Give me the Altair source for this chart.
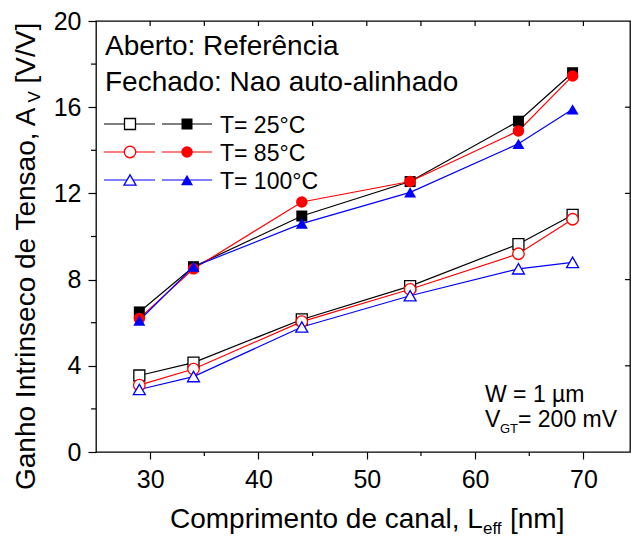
import altair as alt
import pandas as pd

# ---- data ----
leff = [29, 34, 44, 54, 64, 69]
temps = ["25", "85", "100"]
temp_labels = ["T= 25°C", "T= 85°C", "T= 100°C"]

closed_25 = [6.5, 8.6, 10.95, 12.55, 15.35, 17.6]
closed_85 = [6.2, 8.5, 11.6, 12.55, 14.9, 17.45]
closed_100 = [6.1, 8.6, 10.6, 12.05, 14.3, 15.9]

open_25 = [3.55, 4.15, 6.15, 7.7, 9.65, 11.0]
open_85 = [3.1, 3.85, 6.05, 7.55, 9.2, 10.8]
open_100 = [2.9, 3.5, 5.8, 7.25, 8.5, 8.8]

x_major = [30, 40, 50, 60, 70]
x_minor = [35, 45, 55, 65]
x_top = [30, 35, 40, 45, 50, 55, 60, 65, 70]
y_major = [0, 4, 8, 12, 16, 20]
y_minor = [2, 6, 10, 14, 18]
y_right = [4, 8, 12, 16]

FONT = "Liberation Sans"
colors = ["#000000", "#ff0000", "#0000ff"]

rows = []
for kind, series in [("closed", [closed_25, closed_85, closed_100]),
                     ("open", [open_25, open_85, open_100])]:
    for t, vals in zip(temps, series):
        for L, v in zip(leff, vals):
            rows.append({"kind": kind, "temp": t, "series": kind + t, "leff": L, "av": v})
df = pd.DataFrame(rows)

xs = alt.Scale(domain=[25, 74.3], nice=False, zero=False)
ys = alt.Scale(domain=[0, 20], nice=False, zero=False)
cs = alt.Scale(domain=temps, range=colors)
shs = alt.Scale(domain=temps, range=["square", "circle", "triangle-up"])
sz_closed = alt.Scale(domain=temps, range=[144, 169, 169])
sz_open = alt.Scale(domain=temps, range=[121, 144, 160])

x_axis = alt.Axis(values=x_major, format="d", tickSize=7, tickWidth=1.2, tickColor="black",
                  labelFontSize=25, labelFont=FONT, labelColor="black", labelPadding=8,
                  domain=False, grid=False, title=None)
y_axis = alt.Axis(values=y_major, format="d", tickSize=8, tickWidth=1.2, tickColor="black",
                  labelFontSize=25, labelFont=FONT, labelColor="black", labelPadding=7,
                  domain=False, grid=False, title=None)

base = alt.Chart(df)
X = alt.X("leff:Q", scale=xs, axis=x_axis)
Y = alt.Y("av:Q", scale=ys, axis=y_axis)

lines = base.mark_line(strokeWidth=1.2).encode(
    x=X, y=Y,
    color=alt.Color("temp:N", scale=cs, legend=None),
    detail="series:N",
)

closed_pts = base.transform_filter(alt.datum.kind == "closed").mark_point(
    filled=True, opacity=1
).encode(
    x=X, y=Y,
    color=alt.Color("temp:N", scale=cs, legend=None),
    shape=alt.Shape("temp:N", scale=shs, legend=None),
    size=alt.Size("temp:N", scale=sz_closed, legend=None),
)

open_pts = base.transform_filter(alt.datum.kind == "open").mark_point(
    filled=True, fill="white", opacity=1, strokeWidth=1.3
).encode(
    x=X, y=Y,
    stroke=alt.Stroke("temp:N", scale=cs, legend=None),
    shape=alt.Shape("temp:N", scale=shs, legend=None),
    size=alt.Size("temp:N", scale=sz_open, legend=None),
)

# ---- extra ticks (minor outward, mirrored inward) ----
def tick_df(vals):
    return pd.DataFrame({"v": vals})

xminor = alt.Chart(tick_df(x_minor)).mark_rule(color="black", strokeWidth=1.2).encode(
    x=alt.X("v:Q", scale=xs), y=alt.value(431), y2=alt.value(435))
xtop = alt.Chart(tick_df(x_top)).mark_rule(color="black", strokeWidth=1.2).encode(
    x=alt.X("v:Q", scale=xs), y=alt.value(0), y2=alt.value(5))
yminor = alt.Chart(tick_df(y_minor)).mark_rule(color="black", strokeWidth=1.2).encode(
    y=alt.Y("v:Q", scale=ys), x=alt.value(0), x2=alt.value(-5))
yright = alt.Chart(tick_df(y_right)).mark_rule(color="black", strokeWidth=1.2).encode(
    y=alt.Y("v:Q", scale=ys), x=alt.value(534), x2=alt.value(529))

# ---- legend (manual) ----
leg = pd.DataFrame({"temp": temps, "label": temp_labels, "row": [0, 1, 2]})
legbase = alt.Chart(leg).transform_calculate(ly="103 + 28*datum.row", ty="112 + 28*datum.row")
LY = alt.Y("ly:Q", scale=None)
leg_open_line = legbase.mark_rule(strokeWidth=1.2).encode(
    x=alt.value(8), x2=alt.value(59), y=LY,
    color=alt.Color("temp:N", scale=cs, legend=None))
leg_closed_line = legbase.mark_rule(strokeWidth=1.2).encode(
    x=alt.value(66), x2=alt.value(116), y=LY,
    color=alt.Color("temp:N", scale=cs, legend=None))
leg_open_pt = legbase.mark_point(filled=True, fill="white", opacity=1, strokeWidth=1.3).encode(
    x=alt.value(34), y=LY,
    stroke=alt.Stroke("temp:N", scale=cs, legend=None),
    shape=alt.Shape("temp:N", scale=shs, legend=None),
    size=alt.Size("temp:N", scale=sz_open, legend=None))
leg_closed_pt = legbase.mark_point(filled=True, opacity=1).encode(
    x=alt.value(91), y=LY,
    color=alt.Color("temp:N", scale=cs, legend=None),
    shape=alt.Shape("temp:N", scale=shs, legend=None),
    size=alt.Size("temp:N", scale=sz_closed, legend=None))
leg_text = legbase.mark_text(align="left", baseline="alphabetic", font=FONT, fontSize=23,
                             color="black").encode(
    x=alt.value(124), y=alt.Y("ty:Q", scale=None), text="label:N")

# ---- text annotations ----
def txt(s, x, y, size, angle=0):
    m = alt.Chart(pd.DataFrame({"t": [s]})).mark_text(
        align="left", baseline="alphabetic", font=FONT, fontSize=size, color="black", angle=angle)
    return m.encode(x=alt.value(x), y=alt.value(y), text="t:N")

annots = [
    txt("Aberto: Referência", 9, 34, 28),
    txt("Fechado: Nao auto-alinhado", 9, 70, 28),
    txt("W = 1 µm", 389, 381, 23),
    txt("V", 389, 406, 23),
    txt("GT", 404, 412, 13),
    txt("= 200 mV", 422, 406, 23),
    # x axis title
    txt("Comprimento de canal, L", 74, 507, 28),
    txt("eff", 387, 513, 17),
    txt("[nm]", 414, 507, 28),
    # y axis title (rotated)
    txt("Ganho Intrinseco de Tensao, A", -61, 469, 28, 270),
    txt("V", -56, 81.5, 17, 270),
    txt("[V/V]", -61, 62.5, 28, 270),
]

chart = alt.layer(
    lines, open_pts, closed_pts,
    xminor, xtop, yminor, yright,
    leg_open_line, leg_closed_line, leg_open_pt, leg_closed_pt, leg_text,
    *annots
).properties(
    width=534, height=431,
    autosize=alt.AutoSizeParams(type="none"),
    padding={"left": 96, "top": 21, "right": 1, "bottom": 85},
    background="white",
).configure_view(stroke="black", strokeWidth=1.3)

chart.save("out.html", embed_options={"renderer": "svg", "actions": False})
